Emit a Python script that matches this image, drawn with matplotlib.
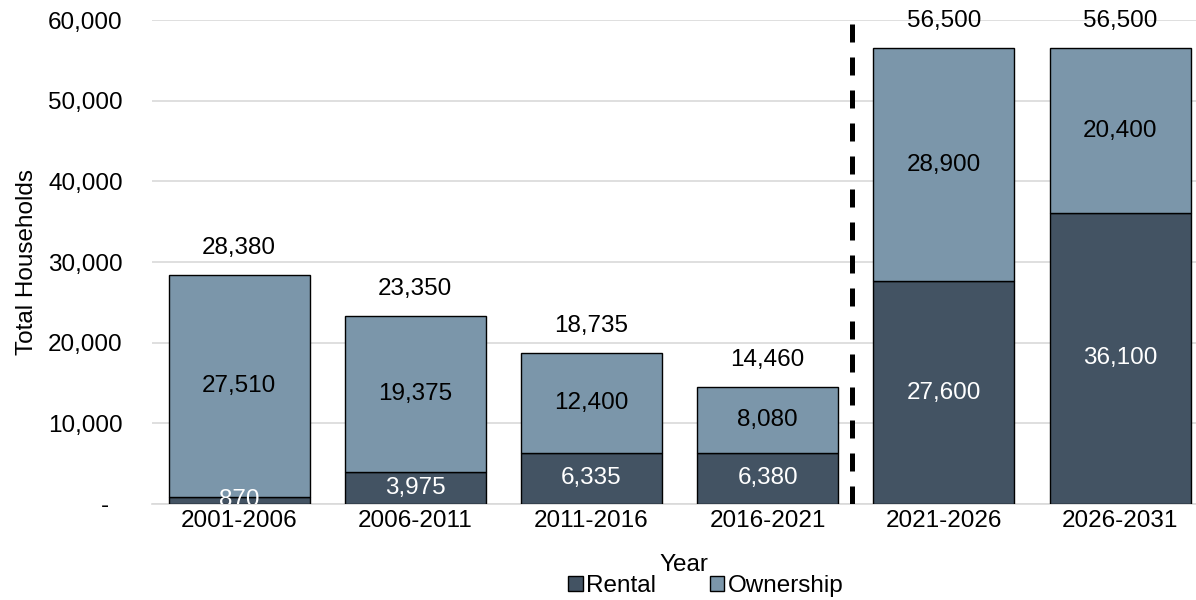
import matplotlib

matplotlib.use("Agg")
import matplotlib.pyplot as plt
from matplotlib.patches import Patch
from matplotlib.ticker import FuncFormatter

periods = ["2001-2006", "2006-2011", "2011-2016", "2016-2021", "2021-2026", "2026-2031"]
rental = [870, 3975, 6335, 6380, 27600, 36100]
ownership = [27510, 19375, 12400, 8080, 28900, 20400]
totals = [28380, 23350, 18735, 14460, 56500, 56500]

RENTAL_COLOR = "#435363"
OWNERSHIP_COLOR = "#7b96aa"
FONT = "Liberation Sans"
FS = 17.5

plt.rcParams["font.family"] = [FONT, "DejaVu Sans"]

fig = plt.figure(figsize=(11.96, 6), dpi=100)
ax = fig.add_axes([152 / 1196, 96 / 600, 1044 / 1196, 484 / 600])

x = list(range(len(periods)))
ax.bar(x, rental, width=0.8, color=RENTAL_COLOR, edgecolor="black", linewidth=1, zorder=3)
ax.bar(x, ownership, width=0.8, bottom=rental, color=OWNERSHIP_COLOR,
       edgecolor="black", linewidth=1, zorder=3)

# segment labels (clipped to the plot area)
for i, (r, o) in enumerate(zip(rental, ownership)):
    t1 = ax.text(i, r / 2, f"{r:,}", ha="center", va="center", color="white", fontsize=FS,
                 zorder=4)
    t2 = ax.text(i, r + o / 2, f"{o:,}", ha="center", va="center", color="black", fontsize=FS,
                 zorder=4)
    for t in (t1, t2):
        t.set_clip_box(ax.bbox)
        t.set_clip_on(True)

# totals above each stack
for i, t in enumerate(totals):
    ax.annotate(f"{t:,}", (i, t), xytext=(0, 19.5), textcoords="offset points",
                ha="center", va="center", fontsize=FS, annotation_clip=False)

# divider between historical and projected periods
ax.plot([3.48, 3.48], [0, 59500], color="black", lw=3.6, dashes=(3.6, 3), zorder=5,
        solid_capstyle="butt", dash_capstyle="butt")

ax.set_xlim(-0.494, 5.431)
ax.set_ylim(0, 60000)
ax.set_yticks(range(0, 60001, 10000))
ax.yaxis.set_major_formatter(FuncFormatter(lambda v, _: "-  " if v == 0 else f"{v:,.0f}"))
ax.set_xticks(x, periods)
ax.tick_params(axis="both", length=0, labelsize=FS)
ax.tick_params(axis="y", pad=21)
ax.tick_params(axis="x", pad=4)
ax.grid(axis="y", color="#d9d9d9", lw=1.2, zorder=0)
for side in ["top", "right", "left"]:
    ax.spines[side].set_visible(False)
ax.spines["bottom"].set_color("#d9d9d9")
ax.spines["bottom"].set_linewidth(1.2)

ax.set_ylabel("Total Households", fontsize=FS, labelpad=7)
fig.text(684 / 1196, 1 - 565 / 600, "Year", ha="center", va="center", fontsize=FS)

handles = [Patch(facecolor=RENTAL_COLOR, edgecolor="black", label="Rental"),
           Patch(facecolor=OWNERSHIP_COLOR, edgecolor="black", label="Ownership")]
fig.legend(handles=handles, loc="center", bbox_to_anchor=(706 / 1196, 1 - 586 / 600), ncol=2,
           frameon=False, fontsize=FS, handlelength=0.6, handleheight=0.6,
           handletextpad=0.15, columnspacing=2.2, borderpad=0)

fig.savefig("out.png", dpi=100)
plt.close(fig)
